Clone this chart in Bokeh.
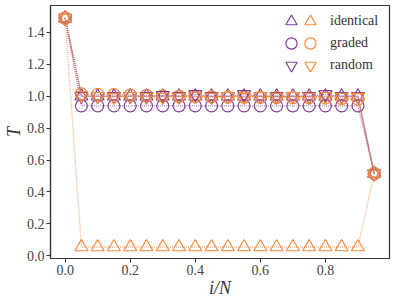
from bokeh.plotting import figure
from bokeh.models import Range1d, Legend, LegendItem, FixedTicker, PrintfTickFormatter
from bokeh.embed import file_html
from bokeh.resources import INLINE

x = [0.00, 0.05, 0.10, 0.15, 0.20, 0.25, 0.30, 0.35, 0.40, 0.45,
     0.50, 0.55, 0.60, 0.65, 0.70, 0.75, 0.80, 0.85, 0.90, 0.95]

identical_purple = [1.49, 1.00, 1.00, 1.00, 1.00, 1.00, 1.00, 1.00, 1.00, 1.00,
                    1.00, 1.00, 1.00, 1.00, 1.00, 1.00, 1.00, 1.00, 1.00, 0.515]
identical_orange = [1.49, 0.055, 0.055, 0.055, 0.055, 0.055, 0.055, 0.055, 0.055, 0.055,
                    0.055, 0.055, 0.055, 0.055, 0.055, 0.055, 0.055, 0.055, 0.055, 0.515]
graded_purple = [1.49, 0.94, 0.94, 0.94, 0.94, 0.94, 0.94, 0.94, 0.94, 0.94,
                 0.94, 0.94, 0.94, 0.94, 0.94, 0.94, 0.94, 0.94, 0.94, 0.515]
graded_orange = [1.49, 1.015, 1.012, 1.01, 1.008, 1.005, 1.003, 1.0, 0.998, 0.996,
                 0.995, 0.994, 0.993, 0.992, 0.99, 0.99, 0.988, 0.986, 0.982, 0.515]
random_purple = [1.49, 1.00, 1.00, 1.00, 1.00, 1.00, 1.005, 1.00, 1.012, 1.00,
                 1.00, 1.012, 1.00, 1.00, 1.00, 1.00, 1.012, 1.00, 1.00, 0.515]
random_orange = [1.49, 1.005, 1.00, 0.995, 1.00, 0.995, 0.995, 0.995, 1.00, 0.995,
                 1.00, 0.995, 1.00, 0.995, 1.00, 0.995, 1.00, 0.995, 0.995, 0.515]

labels = ["identical", "graded", "random"]
y_ticks = [0.0, 0.2, 0.4, 0.6, 0.8, 1.0, 1.2, 1.4]
x_ticks = [0.0, 0.2, 0.4, 0.6, 0.8]

PURPLE = "#7e3c98"
ORANGE = "#f58a3a"
SERIF = "Liberation Serif"
AX = "#333333"

W, H = 391, 300
BL, BR, BT, BB = 48, 2, 5, 38

p = figure(width=W, height=H, output_backend="svg", toolbar_location=None,
           x_range=Range1d(-0.045, 0.997), y_range=Range1d(-0.017, 1.569),
           min_border_left=BL, min_border_right=BR, min_border_top=BT,
           min_border_bottom=BB)
p.xgrid.visible = False
p.ygrid.visible = False
p.outline_line_color = AX
p.outline_line_width = 1.2
p.background_fill_color = "white"

for ax in (p.xaxis[0], p.yaxis[0]):
    ax.axis_line_color = AX
    ax.axis_line_width = 1.2
    ax.major_tick_line_color = AX
    ax.major_tick_out = 4
    ax.major_tick_in = 0
    ax.minor_tick_line_color = None
    ax.major_label_text_font = SERIF
    ax.major_label_text_font_size = "14px"
    ax.major_label_text_color = "#444444"
    ax.axis_label_text_font = SERIF
    ax.axis_label_text_font_style = "italic"
    ax.axis_label_text_font_size = "18px"
    ax.axis_label_text_color = "#333333"
    ax.major_label_standoff = 2
    ax.formatter = PrintfTickFormatter(format="%.1f")

p.xaxis.ticker = FixedTicker(ticks=x_ticks)
p.yaxis.ticker = FixedTicker(ticks=y_ticks)
p.xaxis.axis_label = "i/N"
p.yaxis.axis_label = "T"
p.xaxis.axis_label_standoff = 0
p.yaxis.axis_label_standoff = 0

series = [
    (identical_purple, PURPLE, "triangle"),
    (identical_orange, ORANGE, "triangle"),
    (graded_purple, PURPLE, "circle"),
    (graded_orange, ORANGE, "circle"),
    (random_purple, PURPLE, "inverted_triangle"),
    (random_orange, ORANGE, "inverted_triangle"),
]

frame_h = H - BT - BB
G = 28
row_centers = [20, 42, 64]      # px from frame top
purple_cx, orange_cx = 241, 260  # px from frame left

for i, (ys, col, mk) in enumerate(series):
    p.line(x, ys, line_color=col, line_width=1.3, line_dash="1 1", line_alpha=0.65)
    sz = 12 if mk == "circle" else 13
    sc = p.scatter(x, ys, marker=mk, size=sz, fill_color=None, line_color=col,
                   line_width=1.2)
    row = i // 2
    ly = frame_h - row_centers[row] - G // 2
    if col == PURPLE:
        leg = Legend(items=[LegendItem(label=" ", renderers=[sc])],
                     location=(purple_cx - G // 2, ly), label_standoff=0, label_width=0)
    else:
        leg = Legend(items=[LegendItem(label=labels[row], renderers=[sc])],
                     location=(orange_cx - G // 2, ly), label_standoff=6)
    leg.padding = 0
    leg.margin = 0
    leg.glyph_width = G
    leg.glyph_height = G
    leg.background_fill_alpha = 0
    leg.border_line_alpha = 0
    leg.label_text_font = SERIF
    leg.label_text_font_size = "14px"
    leg.label_text_color = "#333333"
    p.add_layout(leg, "center")

open("out.html", "w").write(file_html(p, INLINE))
